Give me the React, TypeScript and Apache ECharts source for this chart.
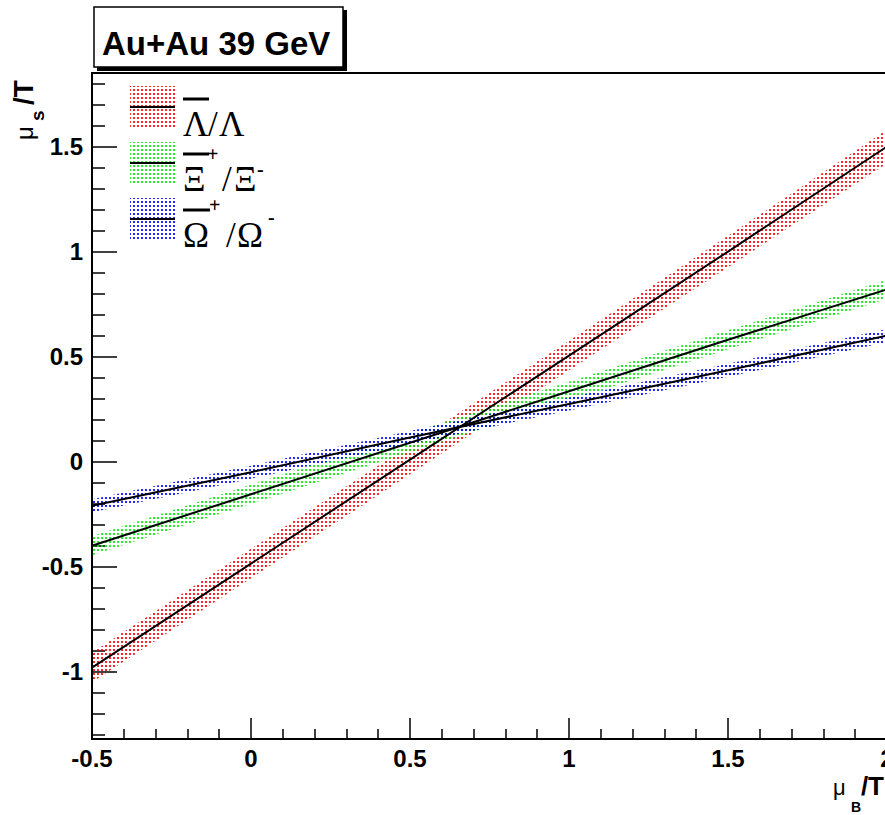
import React, { useEffect, useRef } from "react";
import * as echarts from "echarts";

// mu_B/T sample positions
const xVals = [-0.5, 0, 0.5, 1, 1.5, 2];

// anti-Lambda / Lambda : central line and band edges (mu_S/T)
const lambdaMid = [-0.98, -0.485, 0.01, 0.505, 1.0, 1.5];
const lambdaHi = [-0.91, -0.415, 0.08, 0.575, 1.075, 1.58];
const lambdaLo = [-1.05, -0.555, -0.06, 0.435, 0.925, 1.42];

// anti-Xi+ / Xi-
const xiMid = [-0.4, -0.155, 0.09, 0.335, 0.58, 0.82];
const xiHi = [-0.355, -0.11, 0.135, 0.38, 0.625, 0.865];
const xiLo = [-0.445, -0.2, 0.045, 0.29, 0.535, 0.775];

// anti-Omega+ / Omega-
const omegaMid = [-0.21, -0.05, 0.115, 0.275, 0.435, 0.6];
const omegaHi = [-0.179, -0.019, 0.146, 0.306, 0.466, 0.631];
const omegaLo = [-0.241, -0.081, 0.084, 0.244, 0.404, 0.569];

// axis ticks
const yMajorTicks = [-1, -0.5, 0, 0.5, 1, 1.5];
const yMinorTicks = [
  -1.3, -1.2, -1.1, -0.9, -0.8, -0.7, -0.6, -0.4, -0.3, -0.2, -0.1, 0.1, 0.2,
  0.3, 0.4, 0.6, 0.7, 0.8, 0.9, 1.1, 1.2, 1.3, 1.4, 1.6, 1.7, 1.8,
];

const SANS = "'Liberation Sans', Arial, Helvetica, sans-serif";
const SERIF = "'Liberation Serif', 'Times New Roman', 'DejaVu Serif', serif";

// dotted fill, like a ROOT fill style
function dotPattern(rgb: string) {
  const c = document.createElement("canvas");
  c.width = 4;
  c.height = 4;
  const ctx = c.getContext("2d")!;
  ctx.fillStyle = `rgba(${rgb},0.85)`;
  ctx.fillRect(1, 1, 2, 2);
  return { image: c, repeat: "repeat" } as any;
}

function bandSeries(lo: number[], hi: number[], fill: any) {
  return {
    type: "custom",
    coordinateSystem: "cartesian2d",
    silent: true,
    clip: true,
    z: 2,
    data: xVals.map((x, i) => [x, lo[i], hi[i]]),
    encode: { x: 0, y: [1, 2] },
    renderItem: (params: any, api: any) => {
      if (params.dataIndex !== 0) return null;
      const pts: number[][] = [];
      for (let i = 0; i < xVals.length; i++) pts.push(api.coord([xVals[i], hi[i]]));
      for (let i = xVals.length - 1; i >= 0; i--) pts.push(api.coord([xVals[i], lo[i]]));
      return {
        type: "polygon",
        shape: { points: pts },
        style: { fill, stroke: null },
      };
    },
  };
}

function lineSeries(mid: number[]) {
  return {
    type: "line",
    data: xVals.map((x, i) => [x, mid[i]]),
    symbol: "none",
    z: 5,
    silent: true,
    lineStyle: { color: "#000", width: 2 },
  };
}

function txt(
  text: string,
  x: number,
  y: number,
  size: number,
  family: string,
  weight: string = "normal",
  va: string = "middle",
  align: string = "left"
) {
  return {
    type: "text",
    x,
    y,
    z: 20,
    style: {
      text,
      fontSize: size,
      fontFamily: family,
      fontWeight: weight,
      fill: "#000",
      align,
      verticalAlign: va,
    },
  };
}

function bar(x1: number, x2: number, y: number, w = 2.5) {
  return {
    type: "line",
    z: 20,
    shape: { x1, y1: y, x2, y2: y },
    style: { stroke: "#000", lineWidth: w },
  };
}

export default function App() {
  const ref = useRef<HTMLDivElement>(null);

  useEffect(() => {
    document.body.style.margin = "0";
    const chart = echarts.init(ref.current!, null, { renderer: "svg" });

    const redFill = dotPattern("255,0,0");
    const greenFill = dotPattern("0,235,0");
    const blueFill = dotPattern("0,0,255");

    const legendRows = [
      { y: 86, fill: redFill },
      { y: 142, fill: greenFill },
      { y: 198, fill: blueFill },
    ];

    const graphic: any[] = [
      // title box with drop shadow
      { type: "rect", z: 18, shape: { x: 97, y: 10, width: 250, height: 61 }, style: { fill: "#000" } },
      {
        type: "rect",
        z: 19,
        shape: { x: 94, y: 7, width: 249, height: 60 },
        style: { fill: "#fff", stroke: "#000", lineWidth: 1.5 },
      },
      txt("Au+Au 39 GeV", 102, 43, 33, SANS, "bold"),
    ];

    legendRows.forEach((r) => {
      graphic.push({
        type: "rect",
        z: 15,
        shape: { x: 130, y: r.y, width: 45, height: 41 },
        style: { fill: r.fill },
      });
      graphic.push(bar(130, 175, r.y + 21, 2));
    });

    // legend labels
    graphic.push(
      txt("Λ", 183, 124, 35, SERIF),
      bar(183, 209, 99, 3),
      txt("/", 208, 124, 35, SERIF),
      txt("Λ", 219, 124, 35, SERIF),

      txt("Ξ", 183, 179, 35, SERIF),
      bar(183, 209, 154, 3),
      txt("+", 207, 154, 20, SERIF, "bold"),
      txt("/", 222, 179, 35, SERIF),
      txt("Ξ", 234, 179, 35, SERIF),
      txt("-", 257, 169, 20, SERIF, "bold"),

      txt("Ω", 183, 235, 35, SERIF),
      bar(183, 210, 210, 3),
      txt("+", 209, 205, 20, SERIF, "bold"),
      txt("/", 226, 235, 35, SERIF),
      txt("Ω", 237, 235, 35, SERIF),
      txt("-", 268, 217, 20, SERIF, "bold")
    );

    // x-axis title  mu_B / T
    graphic.push(
      txt("μ", 833, 787, 22, SANS),
      txt("B", 851, 807, 14, SANS, "bold"),
      txt("/T", 884, 786, 26, SANS, "bold", "middle", "right")
    );

    // y-axis title  mu_S / T (rotated)
    graphic.push({
      type: "group",
      x: 24,
      y: 140,
      rotation: Math.PI / 2,
      children: [
        txt("μ", 0, 0, 24, SANS),
        txt("s", 19, 13, 19, SANS, "bold"),
        txt("/T", 35, -1, 28, SANS, "bold"),
      ],
    });

    const axisLineStyle = { color: "#000", width: 2 };
    const labelStyle = {
      color: "#000",
      fontFamily: SANS,
      fontWeight: "bold",
      fontSize: 24,
    };

    chart.setOption({
      animation: false,
      backgroundColor: "#fff",
      grid: {
        left: 92,
        top: 73,
        right: -2,
        bottom: 76,
        show: true,
        borderColor: "#000",
        borderWidth: 2,
        backgroundColor: "transparent",
        containLabel: false,
        outerBoundsMode: "none",
      },
      xAxis: {
        type: "value",
        min: -0.5,
        max: 2,
        interval: 0.5,
        axisLine: { show: true, onZero: false, lineStyle: axisLineStyle },
        axisTick: { show: true, inside: true, length: 21, lineStyle: { color: "#000", width: 1.5 } },
        minorTick: { show: true, splitNumber: 5, length: 10, lineStyle: { color: "#000", width: 1.5 } },
        splitLine: { show: false },
        axisLabel: { ...labelStyle, margin: 7, showMaxLabel: true, showMinLabel: true, hideOverlap: false },
      },
      yAxis: [
        {
          type: "value",
          min: -1.32,
          max: 1.85,
          position: "left",
          axisLine: { show: true, onZero: false, lineStyle: axisLineStyle },
          axisTick: {
            show: true,
            inside: true,
            length: 25,
            customValues: yMajorTicks,
            lineStyle: { color: "#000", width: 1.5 },
          },
          splitLine: { show: false },
          axisLabel: { ...labelStyle, margin: 9, customValues: yMajorTicks },
        },
        {
          type: "value",
          min: -1.32,
          max: 1.85,
          position: "left",
          offset: 0,
          axisLine: { show: false, onZero: false },
          axisTick: {
            show: true,
            inside: true,
            length: 13,
            customValues: yMinorTicks,
            lineStyle: { color: "#000", width: 1.5 },
          },
          splitLine: { show: false },
          axisLabel: { show: false },
        },
      ],
      series: [
        bandSeries(lambdaLo, lambdaHi, redFill),
        bandSeries(xiLo, xiHi, greenFill),
        bandSeries(omegaLo, omegaHi, blueFill),
        lineSeries(lambdaMid),
        lineSeries(xiMid),
        lineSeries(omegaMid),
      ],
      graphic,
    } as any);

    return () => chart.dispose();
  }, []);

  return (
    <div
      ref={ref}
      style={{ position: "fixed", left: 0, top: 0, width: 885, height: 815, background: "#fff" }}
    />
  );
}
